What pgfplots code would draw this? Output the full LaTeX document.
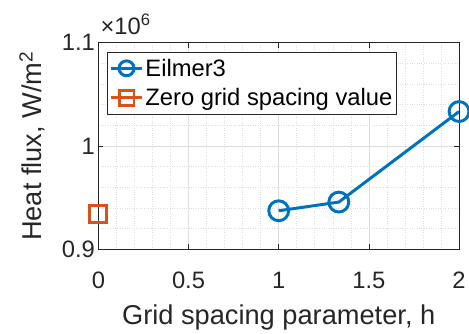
\documentclass[border=0pt]{standalone}
\usepackage{fontspec}
\setmainfont{Liberation Sans}
\usepackage{pgfplots}
\pgfplotsset{compat=1.18}
\usetikzlibrary{calc}
\definecolor{mblue}{RGB}{0,114,189}
\definecolor{morange}{RGB}{217,83,25}
\definecolor{axgray}{RGB}{38,38,38}
\definecolor{gridc}{RGB}{222,222,222}
\begin{document}
\begin{tikzpicture}
\begin{axis}[
  name=ax,
  scale only axis,
  width=363bp, height=208bp,
  xmin=0, xmax=2, ymin=0.9, ymax=1.1,
  xtick={0,0.5,1,1.5,2},
  ytick={0.9,1,1.1},
  xticklabels={0,0.5,1,1.5,2},
  yticklabels={0.9,1,1.1},
  minor x tick num=4,
  minor y tick num=4,
  grid=both,
  major grid style={gridc, line width=0.6bp},
  minor grid style={gridc, dotted, line width=0.6bp},
  axis line style={axgray, line width=0.7bp},
  tick style={axgray, line width=0.7bp},
  major tick length=5bp,
  minor tick length=0pt,
  tick align=inside,
  ticklabel style={font=\fontsize{24}{28}\selectfont, text=axgray},
  xticklabel style={yshift=-19bp},
  xlabel={Grid spacing parameter, h},
  ylabel={Heat flux, W/m\textsuperscript{2}},
  label style={font=\fontsize{27.5}{32}\selectfont, text=axgray},
  xlabel style={yshift=-9bp},
  ylabel style={yshift=10bp},
  clip mode=individual,
  legend style={at={(0,1)}, anchor=north west, xshift=9bp, yshift=-9bp,
    font=\fontsize{24}{28}\selectfont, draw=axgray, line width=0.7bp,
    inner xsep=2bp, inner ysep=5bp, row sep=7bp,
    /tikz/every even column/.append style={column sep=0bp}},
  legend cell align=left,
  legend image code/.code={\draw[mark repeat=2,mark phase=2,#1, mark size=7.5bp]
    plot coordinates {(0bp,0bp)(15.5bp,0bp)(31bp,0bp)};},
]
\addplot[mblue, line width=3bp, mark=o, mark size=10bp,
  mark options={line width=3bp}]
  coordinates {(1,0.9374) (1.3333,0.9458) (2,1.0334)};
\addlegendentry{Eilmer3}
\addplot[morange, line width=3bp, mark=square, mark size=8.5bp,
  mark options={line width=3bp}]
  coordinates {(0,0.9346)};
\addlegendentry{Zero grid spacing value}
\end{axis}
\node[anchor=base west, font=\fontsize{24}{28}\selectfont, text=axgray, inner sep=0pt]
  at ($(ax.north west)+(2bp,8bp)$) {×10\textsuperscript{6}};
\path[use as bounding box] ($(ax.south west)+(-99bp,-82bp)$) rectangle ($(ax.north east)+(7bp,43bp)$);
\end{tikzpicture}
\end{document}
